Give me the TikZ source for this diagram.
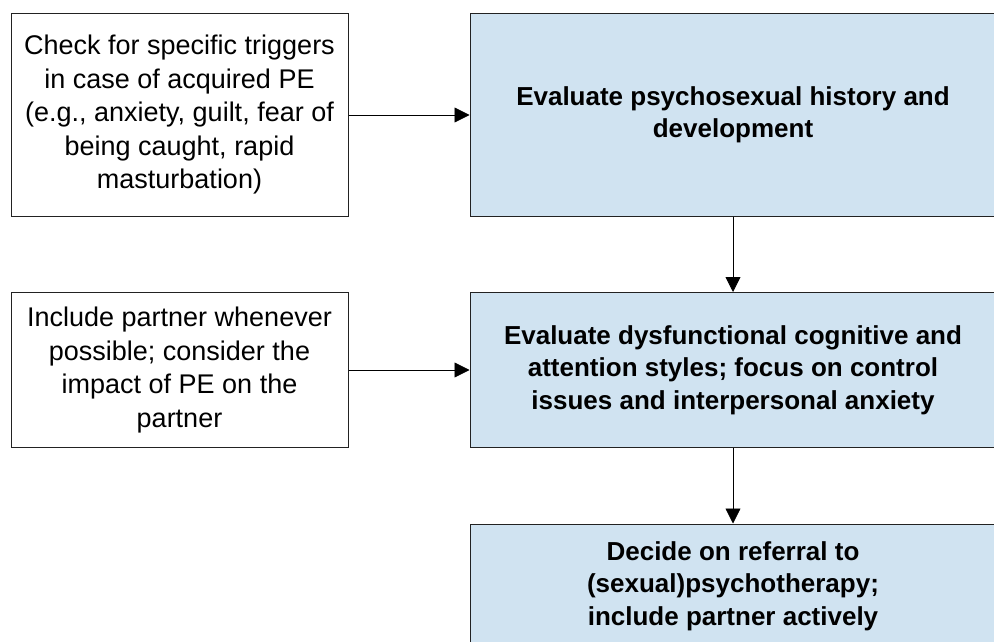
\documentclass[tikz,border=0pt]{standalone}
\usepackage{fontspec}
\setmainfont{Liberation Sans}
\usetikzlibrary{arrows.meta}
\definecolor{boxblue}{HTML}{D0E3F1}
\definecolor{edgegray}{HTML}{222222}
\begin{document}
\begin{tikzpicture}[x=1pt,y=-1pt,
  plainbox/.style={draw=edgegray, line width=1pt, fill=white, align=center, inner sep=0pt,
    font=\fontsize{27}{33.5}\selectfont},
  bluebox/.style={draw=edgegray, line width=1pt, fill=boxblue, align=center, inner sep=0pt,
    minimum width=526pt, font=\bfseries\fontsize{26}{32.5}\selectfont},
  conn/.style={draw=black, line width=0.8pt, -{Triangle[length=15pt,width=15pt]}}]
\useasboundingbox (0,0) rectangle (994,642);
\clip (0,0) rectangle (994,642);
\fill[white] (0,0) rectangle (994,642);

\node[plainbox, minimum width=337pt, minimum height=202pt] (l1) at (179.5,115)
  {Check for specific triggers\\in case of acquired PE\\(e.g., anxiety, guilt, fear of\\being caught, rapid\\masturbation)};
\node[plainbox, minimum width=337pt, minimum height=155pt] (l2) at (179.5,370)
  {Include partner whenever\\possible; consider the\\impact of PE on the\\partner};

\node[bluebox, minimum height=202pt] (r1) at (733,115)
  {Evaluate psychosexual history and\\development};
\node[bluebox, minimum height=155pt] (r2) at (733,370)
  {Evaluate dysfunctional cognitive and\\attention styles; focus on control\\issues and interpersonal anxiety};
\node[bluebox, minimum height=124pt] (r3) at (733,586)
  {Decide on referral to\\(sexual)psychotherapy;\\include partner actively};

\draw[conn] (l1.east) -- (r1.west);
\draw[conn] (l2.east) -- (r2.west);
\draw[conn] (r1.south) -- (r2.north);
\draw[conn] (r2.south) -- (r3.north);
\end{tikzpicture}
\end{document}
